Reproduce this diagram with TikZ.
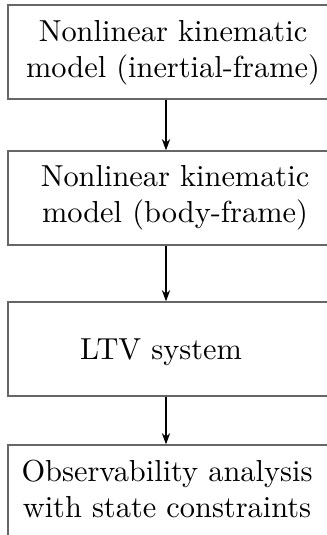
\documentclass[tikz,border=0pt]{standalone}
\usetikzlibrary{arrows.meta,calc}
\begin{document}
\begin{tikzpicture}[x=0.339pt,y=-0.339pt,
  box/.style={draw=black!60,line width=0.45pt,minimum width=330*0.339pt,minimum height=94*0.339pt,inner sep=0pt},
  txt/.style={align=center,inner sep=0pt,font=\fontsize{10.3}{12.2}\selectfont},
  arr/.style={draw=black,line width=0.4pt,-{Stealth[length=3.8pt,width=2.8pt,inset=1.2pt]}}]
\useasboundingbox (0,0) rectangle (327,535);
\clip (0,0) rectangle (327,535);
\node[box] (b1) at (173,52) {};
\node[box] (b2) at (173,198) {};
\node[box] (b3) at (173,349) {};
\node[box] (b4) at (173,492) {};
\node[txt,anchor=base] (t1) at (173,77) {Nonlinear kinematic\\model (inertial-frame)};
\node[txt,anchor=base] (t2) at (175,222) {Nonlinear kinematic\\model (body-frame)};
\node[txt,anchor=base] (t3) at (161,359) {LTV system};
\node[txt,anchor=base] (t4) at (167,517) {Observability analysis\\with state constraints};
\draw[arr] ($(b1.south)+(-7,0)$) -- ($(b2.north)+(-7,0)$);
\draw[arr] ($(b2.south)+(-7,0)$) -- ($(b3.north)+(-7,0)$);
\draw[arr] ($(b3.south)+(-7,0)$) -- ($(b4.north)+(-7,0)$);
\end{tikzpicture}
\end{document}
